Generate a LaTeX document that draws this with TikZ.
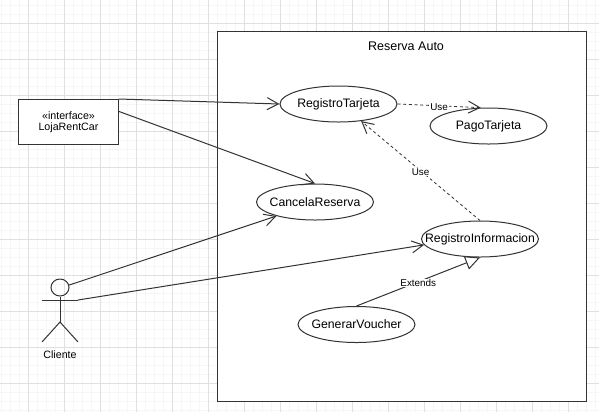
\documentclass[tikz,border=0pt]{standalone}
\usepackage{fontspec}
\setmainfont{Liberation Sans}
\usetikzlibrary{arrows.meta,shapes.geometric}
\definecolor{umlline}{HTML}{333333}
\newcommand{\ucname}[1]{\makebox[0pt]{#1}}
\tikzset{
	usecase/.style={
			ellipse, draw=umlline, fill=white, line width=0.75pt, inner sep=0pt,
			minimum width=87.75pt, minimum height=27pt, font=\fontsize{9.2pt}{11pt}\selectfont
		},
	assoc/.style={
			draw=umlline, line width=0.75pt, -{Straight Barb[length=8.5pt, width=9pt, line width=0.75pt]}
		},
	depend/.style={
			draw=umlline, line width=0.6pt, dash pattern=on 2.25pt off 2pt,
			-{Straight Barb[length=8.5pt, width=9pt, line width=0.75pt]}
		},
	edgelabel/.style={
			fill=white, inner sep=0.5pt, yshift=-1pt, font=\fontsize{7.4pt}{9pt}\selectfont
		},
	stickman/.style={draw=umlline, line width=0.75pt}
}

\begin{document}
\begin{tikzpicture}[x=0.75pt, y=-0.75pt]
	\useasboundingbox (0, 0) rectangle (599, 412);

	\foreach \i in {0, ..., 66} {
		\draw[black!3.5, line width=0.75pt] ({1 + 9*\i}, 0) to ({1 + 9*\i}, 412);
	}
	\foreach \i in {0, ..., 45} {
		\draw[black!3.5, line width=0.75pt] (0, {5 + 9*\i}) to (599, {5 + 9*\i});
	}
	\foreach \i in {0, ..., 15} {
		\draw[black!12, line width=0.75pt] ({28 + 36*\i}, 0) to ({28 + 36*\i}, 412);
	}
	\foreach \i in {0, ..., 10} {
		\draw[black!12, line width=0.75pt] (0, {23 + 36*\i}) to (599, {23 + 36*\i});
	}

	\draw[umlline, fill=white, line width=0.75pt] (217, 31) rectangle (586, 401);
	\node[font=\fontsize{9.4pt}{11pt}\selectfont] (title) at (406, 46) {Reserva Auto};

	\node[draw=umlline, fill=white, line width=0.75pt, minimum width=74.5pt, minimum height=33.75pt,
		inner sep=0pt, align=center, font=\fontsize{8pt}{9pt}\selectfont] (loja) at (68.5, 122) {«interface»\\[-1pt]LojaRentCar};

	\node[usecase] (regTarjeta) at (338.5, 104) {\ucname{RegistroTarjeta}};
	\node[usecase] (pagoTarjeta) at (488.5, 126) {\ucname{PagoTarjeta}};
	\node[usecase] (cancela) at (315, 202) {\ucname{CancelaReserva}};
	\node[usecase] (regInfo) at (480, 239) {\ucname{RegistroInformacion}};
	\node[usecase] (voucher) at (356.5, 324.5) {\ucname{GenerarVoucher}};

	\node[stickman, ellipse, minimum width=13.5pt, minimum height=12.75pt, inner sep=0pt] (head) at (60, 287.5) {};
	\coordinate (hip) at (60, 322);
	\coordinate (armL) at (42, 300);
	\coordinate (armR) at (78, 300);
	\coordinate (footL) at (42, 342);
	\coordinate (footR) at (78, 342);
	\draw[stickman] (head.south) to (hip);
	\draw[stickman] (armL) to (armR);
	\draw[stickman] (footL) to (hip) to (footR);
	\node[font=\fontsize{8pt}{9pt}\selectfont] (cliente) at (60, 355) {Cliente};

	\draw[assoc] (loja.north east) to (regTarjeta.west);
	\draw[assoc] (loja.12.5) to (cancela.north);
	\draw[assoc] (head.15) to (cancela.200.5);
	\draw[assoc] (armR) to (regInfo.186.5);

	\draw[depend] (regTarjeta.east) to node[edgelabel] (useA) {Use} (pagoTarjeta.113.8);
	\draw[depend] (regInfo.north) to node[edgelabel] (useB) {Use} (regTarjeta.-37.8);

	\draw[draw=umlline, line width=0.75pt, -{Triangle[open, length=11pt, width=10.5pt, fill=white, line width=0.75pt]}]
		(voucher.north) to node[edgelabel] (extends) {Extends} (regInfo.south);
\end{tikzpicture}
\end{document}
